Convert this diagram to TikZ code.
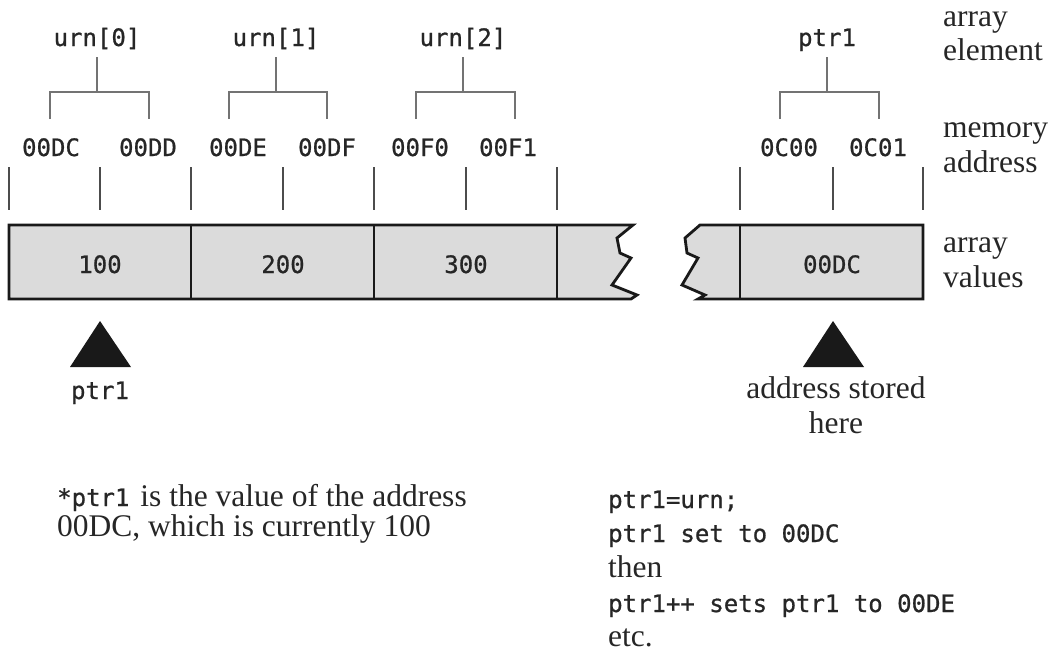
\documentclass[tikz,border=0pt]{standalone}
\usepackage{fontspec}
\setmainfont{Liberation Serif}
\newfontfamily\monofont[FakeBold=0.8]{DejaVu Sans Mono}
\newcommand{\monosz}{\monofont\fontsize{24}{28}\selectfont}
\begin{document}
\begin{tikzpicture}[x=1pt,y=-1pt,
  mono/.style={font=\monosz, inner sep=0pt, text=black!85},
  serif/.style={font=\fontsize{31.5}{34}\selectfont, inner sep=0pt, text=black!85},
  tickmark/.style={draw=black!70, line width=2.2pt},
  brk/.style={draw=black!55, line width=2.2pt, line join=miter},
  cellbox/.style={fill=black!14, draw=black!90, line width=2.8pt, line join=miter},
  divider/.style={draw=black!90, line width=2.8pt},
  pointer/.style={fill=black!90}]
\useasboundingbox (0,0) rectangle (1050,653);

% array element labels
\node[mono, anchor=base] (u0) at (97,46) {urn[0]};
\node[mono, anchor=base] (u1) at (276,46) {urn[1]};
\node[mono, anchor=base] (u2) at (463,46) {urn[2]};
\node[mono, anchor=base] (pl) at (827,46) {ptr1};

% brackets
\draw[brk] (97,57) -- (97,92) (50,119) -- (50,92) -- (149,92) -- (149,119);
\draw[brk] (276,57) -- (276,92) (229,119) -- (229,92) -- (327,92) -- (327,119);
\draw[brk] (463,57) -- (463,92) (416,119) -- (416,92) -- (515,92) -- (515,119);
\draw[brk] (827,57) -- (827,92) (780,119) -- (780,92) -- (879,92) -- (879,119);

% memory addresses
\node[mono, anchor=base] (a0) at (51,156) {00DC};
\node[mono, anchor=base] (a1) at (148,156) {00DD};
\node[mono, anchor=base] (a2) at (238,156) {00DE};
\node[mono, anchor=base] (a3) at (327,156) {00DF};
\node[mono, anchor=base] (a4) at (420,156) {00F0};
\node[mono, anchor=base] (a5) at (508,156) {00F1};
\node[mono, anchor=base] (a6) at (789,156) {0C00};
\node[mono, anchor=base] (a7) at (878,156) {0C01};

% ticks
\foreach \x in {9,100,191,283,374,466,557,740,833,923}
  \draw[tickmark] (\x,167) -- (\x,210);

% array boxes
\path[cellbox] (9,225) -- (633,225) -- (617,238) -- (620,253) -- (631,258)
  -- (612,285) -- (637,295) -- (631,299) -- (9,299) -- cycle;
\path[cellbox] (700,225) -- (923,225) -- (923,299) -- (698,299) -- (705,295)
  -- (682,285) -- (698,258) -- (687,253) -- (685,238) -- cycle;
\foreach \x in {191,374,557,740}
  \draw[divider] (\x,225) -- (\x,299);

% values
\node[mono, anchor=base] (v0) at (100,273) {100};
\node[mono, anchor=base] (v1) at (283,273) {200};
\node[mono, anchor=base] (v2) at (466,273) {300};
\node[mono, anchor=base] (v3) at (832,273) {00DC};

% pointers
\fill[pointer] (100,321) -- (131,367) -- (70,367) -- cycle;
\fill[pointer] (833,321) -- (864,367) -- (803,367) -- cycle;
\node[mono, anchor=base] (p1) at (100,399) {ptr1};
\node[serif, anchor=base] (st1) at (836,398) {address stored};
\node[serif, anchor=base] (st2) at (836,433) {here};

% row labels
\node[serif, anchor=base west] (r1) at (943,26) {array};
\node[serif, anchor=base west] (r2) at (943,60) {element};
\node[serif, anchor=base west] (r3) at (943,137) {memory};
\node[serif, anchor=base west] (r4) at (943,172) {address};
\node[serif, anchor=base west] (r5) at (943,252) {array};
\node[serif, anchor=base west] (r6) at (943,287) {values};

% bottom left text (one node, tight leading as in the reference)
\node[serif, anchor=base west, align=left, font=\fontsize{31.5}{30}\selectfont] (b1) at (57,536)
  {{\monosz *ptr1}\hspace{11pt}is the value of the address\\00DC, which is currently 100};

% bottom right text
\node[mono, anchor=base west] (c1) at (608,508) {ptr1=urn;};
\node[mono, anchor=base west] (c2) at (608,542) {ptr1 set to 00DC};
\node[serif, anchor=base west] (c3) at (608,577) {then};
\node[mono, anchor=base west] (c4) at (608,612) {ptr1++ sets ptr1 to 00DE};
\node[serif, anchor=base west] (c5) at (608,646) {etc.};
\end{tikzpicture}
\end{document}
